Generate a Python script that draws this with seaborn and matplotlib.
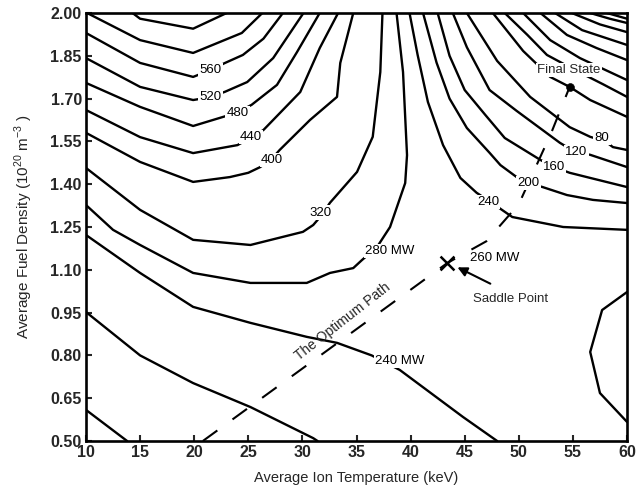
import numpy as np
import pandas as pd
import matplotlib
matplotlib.use("Agg")
import matplotlib.pyplot as plt
import seaborn as sns

# ---------------- data ----------------
# Contour polylines: average ion temperature T (keV), fuel density n (1e20 m^-3)
c640_T = [14.3, 15.0, 19.9, 23.0]
c640_n = [2.00, 1.98, 1.945, 2.00]
c600_T = [10.1, 15.0, 19.9, 24.4, 26.3]
c600_n = [2.00, 1.905, 1.86, 1.93, 2.00]
c560_T = [10, 15, 19.9, 21.5, 22.85, 24.5, 26.4, 28.2]
c560_n = [1.93, 1.825, 1.776, 1.80, 1.825, 1.853, 1.91, 2.00]
c520_T = [10, 15, 19.9, 21.5, 22.85, 24.9, 27.3, 30.1]
c520_n = [1.842, 1.741, 1.695, 1.705, 1.724, 1.758, 1.842, 2.00]
c480_T = [10, 15, 19.9, 23.9, 25.3, 27.65, 29.5, 31.6]
c480_n = [1.755, 1.671, 1.604, 1.65, 1.678, 1.748, 1.863, 2.00]
c440_T = [10, 15, 19.9, 24.0, 25.2, 26.4, 29.8, 31.6, 33.3]
c440_n = [1.66, 1.565, 1.509, 1.537, 1.562, 1.59, 1.723, 1.877, 2.00]
c400_T = [10, 15, 19.9, 23.3, 25.0, 26.1, 27.2, 27.9, 30.7, 33.2, 33.5, 34.1, 34.7]
c400_n = [1.58, 1.478, 1.408, 1.425, 1.44, 1.46, 1.49, 1.52, 1.625, 1.706, 1.825, 1.912, 2.00]
c320_T = [10, 15, 19.9, 25.2, 30.05, 31.0, 31.75, 32.55, 35.05, 36.5, 37.2, 37.4]
c320_n = [1.457, 1.31, 1.205, 1.187, 1.233, 1.257, 1.29, 1.335, 1.443, 1.566, 1.793, 2.00]
c280_T = [10, 12.5, 15, 19.9, 25.2, 30.4, 32.55, 34.7, 35.5, 36.9, 38.1, 38.8, 39.5, 39.67, 39.3, 38.7]
c280_n = [1.327, 1.24, 1.187, 1.089, 1.054, 1.054, 1.089, 1.106, 1.134, 1.18, 1.25, 1.327, 1.404, 1.502, 1.793, 2.00]
c240_T = [10, 15, 19.9, 25.2, 30.4, 33.2, 36.4, 39.0, 44.85, 48.0]
c240_n = [1.222, 1.089, 0.97, 0.914, 0.865, 0.844, 0.80, 0.749, 0.584, 0.50]
c200_T = [10, 15, 19.9, 25.2, 31.0, 31.4]
c200_n = [0.952, 0.80, 0.703, 0.619, 0.51, 0.50]
c160_T = [10, 13.8]
c160_n = [0.609, 0.50]
cR_T = [60, 57.7, 56.6, 57.5, 60]
cR_n = [1.022, 0.959, 0.812, 0.668, 0.567]
r240_T = [39.9, 40.65, 41.6, 43.0, 44.6, 46.1, 47.3, 49.4, 54.1, 60]
r240_n = [2.00, 1.853, 1.688, 1.537, 1.422, 1.37, 1.34, 1.285, 1.25, 1.24]
r200_T = [41.15, 42.4, 43.6, 45.2, 47.3, 48.3, 49.8, 50.9, 52.2, 54.45, 56.85, 60]
r200_n = [2.00, 1.826, 1.70, 1.597, 1.51, 1.467, 1.425, 1.404, 1.39, 1.362, 1.345, 1.334]
r160_T = [42.5, 43.6, 45.0, 46.9, 48.7, 52.0, 53.25, 54.7, 56.6, 60]
r160_n = [2.00, 1.85, 1.73, 1.643, 1.562, 1.485, 1.46, 1.44, 1.422, 1.39]
r120_T = [43.9, 45.2, 47.3, 49.8, 53.8, 55.2, 56.6, 60]
r120_n = [2.00, 1.88, 1.73, 1.657, 1.545, 1.513, 1.503, 1.46]
r80_T = [45.2, 48.0, 51.05, 54.7, 56.6, 58.0, 58.7, 60]
r80_n = [2.00, 1.832, 1.706, 1.60, 1.566, 1.55, 1.53, 1.52]
r40_T = [47.6, 50.4, 52.9, 54.7, 56.6, 60]
r40_n = [2.00, 1.867, 1.776, 1.741, 1.695, 1.636]
r0_T = [48.7, 50.8, 52.6, 55.2, 57.8, 60]
r0_n = [2.00, 1.923, 1.853, 1.80, 1.75, 1.706]
rm40_T = [50.4, 52.9, 55.65, 60]
rm40_n = [2.00, 1.905, 1.842, 1.765]
rm80_T = [52.0, 54.45, 57.2, 60]
rm80_n = [2.00, 1.923, 1.877, 1.835]
rm120_T = [53.35, 55.85, 60]
rm120_n = [2.00, 1.94, 1.888]
rm160_T = [54.9, 57.5, 60]
rm160_n = [2.00, 1.96, 1.933]
rm200_T = [56.6, 58.4, 60]
rm200_n = [2.00, 1.98, 1.965]
rm240_T = [58.15, 60]
rm240_n = [2.00, 1.98]

# Optimum path (dashed)
path_T = [20.8, 43.4, 47.0, 50.0, 53.0, 54.7]
path_n = [0.50, 1.124, 1.20, 1.33, 1.58, 1.741]

saddle_T, saddle_n = [43.4], [1.124]
final_T, final_n = [54.7], [1.741]

# contour labels: text, T, n
label_text = ["560", "520", "480", "440", "400", "320", "280 MW", "260 MW",
              "240 MW", "240", "200", "160", "120", "80"]
label_T = [21.5, 21.5, 24.0, 25.25, 27.2, 31.7, 38.1, 47.8, 39.0, 47.15, 50.9, 53.25, 55.3, 57.7]
label_n = [1.80, 1.706, 1.65, 1.566, 1.485, 1.30, 1.166, 1.141, 0.78, 1.338, 1.404, 1.46, 1.513, 1.562]

x_ticks = [10, 15, 20, 25, 30, 35, 40, 45, 50, 55, 60]
y_ticks = [0.50, 0.65, 0.80, 0.95, 1.10, 1.25, 1.40, 1.55, 1.70, 1.85, 2.00]

# ---------------- build long table ----------------
lines = {
    "640": (c640_T, c640_n), "600": (c600_T, c600_n), "560": (c560_T, c560_n),
    "520": (c520_T, c520_n), "480": (c480_T, c480_n), "440": (c440_T, c440_n),
    "400": (c400_T, c400_n), "320": (c320_T, c320_n), "280": (c280_T, c280_n),
    "240": (c240_T, c240_n), "200": (c200_T, c200_n), "160": (c160_T, c160_n),
    "R": (cR_T, cR_n), "r240": (r240_T, r240_n), "r200": (r200_T, r200_n),
    "r160": (r160_T, r160_n), "r120": (r120_T, r120_n), "r80": (r80_T, r80_n),
    "r40": (r40_T, r40_n), "r0": (r0_T, r0_n), "rm40": (rm40_T, rm40_n),
    "rm80": (rm80_T, rm80_n), "rm120": (rm120_T, rm120_n), "rm160": (rm160_T, rm160_n),
    "rm200": (rm200_T, rm200_n), "rm240": (rm240_T, rm240_n),
}
rows = []
for name, (ts, ns) in lines.items():
    for i, (t, n) in enumerate(zip(ts, ns)):
        rows.append({"line": name, "order": i, "T": t, "n": n})
df = pd.DataFrame(rows)

# ---------------- plot ----------------
sns.set_theme(style="ticks")
plt.rcParams["font.family"] = ["Liberation Sans", "DejaVu Sans"]
plt.rcParams["mathtext.fontset"] = "custom"
plt.rcParams["mathtext.rm"] = "Liberation Sans"

fig = plt.figure(figsize=(6.37, 4.97), dpi=100)
ax = fig.add_axes([86 / 637, 56 / 497, 541 / 637, 428 / 497])

sns.lineplot(data=df, x="T", y="n", units="line", estimator=None, sort=False,
             color="black", linewidth=1.7, legend=False, ax=ax)

sns.lineplot(x=path_T, y=path_n, sort=False, estimator=None, color="black",
             linewidth=1.5, linestyle=(0, (8.6, 9.0)), ax=ax)

sns.scatterplot(x=saddle_T, y=saddle_n, marker="x", s=100, color="black",
                linewidth=1.8, ax=ax, zorder=6)
sns.scatterplot(x=final_T, y=final_n, marker="o", s=32, color="black",
                edgecolor="black", ax=ax, zorder=6)

bbox = dict(boxstyle="square,pad=0.1", fc="white", ec="none")
for txt, t, n in zip(label_text, label_T, label_n):
    ax.text(t, n, txt, ha="center", va="center", fontsize=9.5, color="black",
            bbox=bbox, zorder=5)

ax.text(54.6, 1.80, "Final State", ha="center", va="center", fontsize=9.5,
        bbox=bbox, zorder=5)
ax.text(49.2, 0.998, "Saddle Point", ha="center", va="center", fontsize=9.5,
        bbox=bbox, zorder=5)
ax.annotate("", xy=(44.1, 1.113), xytext=(47.6, 1.047),
            arrowprops=dict(arrowstyle="-|>", color="black", lw=1.5,
                            mutation_scale=14), zorder=6)
ax.text(33.75, 0.917, "The Optimum Path", ha="center", va="center",
        fontsize=10, rotation=38, rotation_mode="anchor", zorder=5)

ax.set_xlim(10, 60)
ax.set_ylim(0.50, 2.00)
ax.set_xticks(x_ticks)
ax.set_yticks(y_ticks)
ax.set_xticklabels([str(v) for v in x_ticks], fontsize=11.5, fontweight="bold")
ax.set_yticklabels([f"{v:.2f}" for v in y_ticks], fontsize=11.5, fontweight="bold")
ax.tick_params(direction="in", length=4, width=1.5, pad=3)
for sp in ax.spines.values():
    sp.set_visible(True)
    sp.set_linewidth(1.9)
    sp.set_color("black")

ax.set_xlabel("Average Ion Temperature (keV)", fontsize=10.5, labelpad=8)
ax.set_ylabel(r"Average Fuel Density (10$^{20}$ m$^{-3}$ )", fontsize=11, labelpad=11)

fig.savefig("out.png", dpi=100)
